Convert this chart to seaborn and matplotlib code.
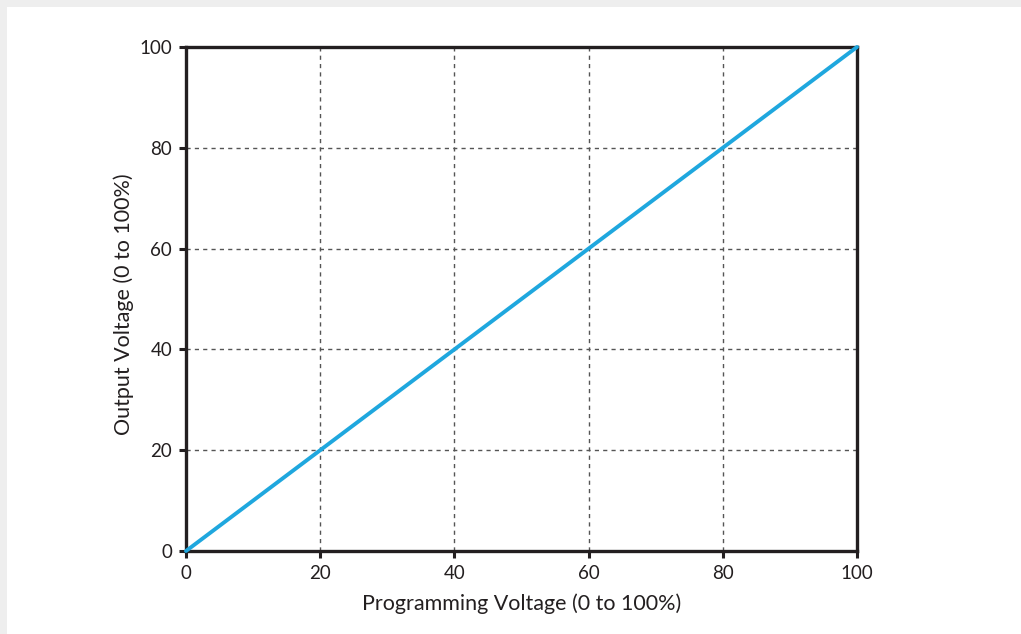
import matplotlib
matplotlib.use('Agg')
import matplotlib.pyplot as plt
import seaborn as sns
import pandas as pd
from matplotlib.patches import Rectangle

# Data
programming_voltage = [0, 100]
output_voltage = [0, 100]
tick_values = [0, 20, 40, 60, 80, 100]

df = pd.DataFrame({"Programming": programming_voltage, "Output": output_voltage})

sns.set_theme(style="white")
plt.rcParams['font.family'] = ['Lato', 'DejaVu Sans']

fig = plt.figure(figsize=(10.21, 6.34), dpi=100)
fig.patch.set_facecolor('#eeeeee')
# white card with a thin grey margin on the top and left
fig.add_artist(Rectangle((7 / 1021, 0), 1, 1 - 7 / 634, transform=fig.transFigure,
                         facecolor='white', edgecolor='none', zorder=-10))
ax = fig.add_axes([186 / 1021, 1 - 551 / 634, (857 - 186) / 1021, (551 - 47) / 634])
ax.set_facecolor('none')

sns.lineplot(data=df, x="Programming", y="Output", color="#1fa7de", linewidth=2.8, ax=ax,
             zorder=3, clip_on=False)

ax.set_xlim(0, 100)
ax.set_ylim(0, 100)
ax.set_xticks(tick_values)
ax.set_yticks(tick_values)
ax.grid(True, linestyle=(0, (3, 3)), color='#555555', linewidth=1.0)

for s in ax.spines.values():
    s.set_color('#231f20')
    s.set_linewidth(2.4)
ax.tick_params(axis='both', direction='out', length=5, width=2.2, color='#231f20',
               labelsize=13.5, labelcolor='#231f20', pad=5, bottom=True, left=True)

ax.set_xlabel("Programming Voltage (0 to 100%)", fontsize=15.5, color='#231f20', labelpad=8)
ax.set_ylabel("Output Voltage (0 to 100%)", fontsize=15.5, color='#231f20', labelpad=0)
ax.yaxis.set_label_coords(-0.078, 0.49)

fig.savefig("out.png", dpi=100, facecolor=fig.get_facecolor())
